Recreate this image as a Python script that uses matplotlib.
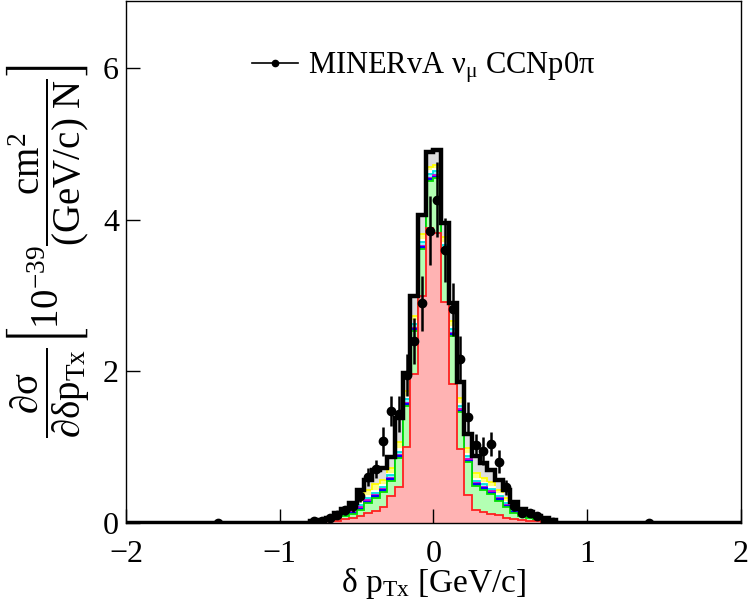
import numpy as np
import matplotlib
matplotlib.use('Agg')
import matplotlib.pyplot as plt
from matplotlib.lines import Line2D

plt.rcParams['font.family'] = ['Liberation Serif', 'DejaVu Serif']
plt.rcParams['mathtext.fontset'] = 'custom'
plt.rcParams['mathtext.rm'] = 'Liberation Serif'
plt.rcParams['mathtext.it'] = 'Liberation Serif:italic'
plt.rcParams['mathtext.bf'] = 'Liberation Serif:bold'
plt.rcParams['mathtext.fallback'] = 'stix'

# bin edges: one wide bin each side, 0.05 wide bins in the middle
edges = [-2.0, -0.8, -0.75, -0.7, -0.65, -0.6, -0.55, -0.5, -0.45, -0.4, -0.35, -0.3,
         -0.25, -0.2, -0.15, -0.1, -0.05, 0.0, 0.05, 0.1, 0.15, 0.2, 0.25, 0.3,
         0.35, 0.4, 0.45, 0.5, 0.55, 0.6, 0.65, 0.7, 0.75, 0.8, 2.0]

# total MC (black outline)
mc_total = [0.0,
            0.02, 0.04, 0.06, 0.13, 0.19, 0.27, 0.44, 0.57, 0.70, 0.72, 0.87, 1.38, 1.98, 2.99, 4.07, 4.90,
            4.92, 3.96, 2.90, 1.86, 1.18, 0.89, 0.79, 0.70, 0.57, 0.43, 0.28, 0.19, 0.14, 0.09, 0.06, 0.04,
            0.0]
# red (bottom) layer
mc_red = [0.0,
          0.003, 0.01, 0.02, 0.03, 0.05, 0.07, 0.09, 0.13, 0.16, 0.21, 0.35, 0.48, 1.00, 1.97, 3.00, 3.90,
          3.83, 2.92, 1.84, 0.98, 0.37, 0.17, 0.15, 0.12, 0.10, 0.07, 0.05, 0.04, 0.03, 0.02, 0.01, 0.005,
          0.0]
# top of green layer
mc_green_top = [0.0,
                0.01, 0.02, 0.04, 0.07, 0.09, 0.12, 0.17, 0.26, 0.33, 0.41, 0.56, 0.86, 1.55, 2.54, 3.62, 4.52,
                4.55, 3.58, 2.47, 1.46, 0.80, 0.49, 0.44, 0.38, 0.29, 0.21, 0.13, 0.09, 0.06, 0.04, 0.02, 0.01,
                0.0]
mc_blue = [0.0,
           0.0, 0.0, 0.0, 0.01, 0.01, 0.01, 0.02, 0.02, 0.02, 0.02, 0.02, 0.02, 0.02, 0.02, 0.02, 0.02,
           0.02, 0.02, 0.02, 0.02, 0.02, 0.02, 0.02, 0.02, 0.02, 0.02, 0.01, 0.01, 0.01, 0.0, 0.0, 0.0,
           0.0]
mc_magenta = [0.0,
              0.0, 0.0, 0.0, 0.0, 0.01, 0.01, 0.02, 0.02, 0.02, 0.02, 0.02, 0.02, 0.02, 0.02, 0.02, 0.02,
              0.02, 0.02, 0.02, 0.02, 0.02, 0.02, 0.02, 0.02, 0.02, 0.01, 0.01, 0.01, 0.0, 0.0, 0.0, 0.0,
              0.0]
mc_cyan = [0.0,
           0.0, 0.0, 0.0, 0.01, 0.02, 0.02, 0.03, 0.03, 0.03, 0.03, 0.03, 0.04, 0.04, 0.05, 0.05, 0.05,
           0.05, 0.05, 0.05, 0.04, 0.04, 0.03, 0.03, 0.03, 0.03, 0.02, 0.02, 0.01, 0.01, 0.01, 0.0, 0.0,
           0.0]
mc_white = [0.0,
            0.0, 0.0, 0.0, 0.01, 0.01, 0.02, 0.02, 0.02, 0.02, 0.02, 0.02, 0.03, 0.03, 0.03, 0.03, 0.03,
            0.03, 0.03, 0.03, 0.03, 0.03, 0.02, 0.02, 0.02, 0.02, 0.02, 0.01, 0.01, 0.01, 0.0, 0.0, 0.0,
            0.0]
mc_yellow = [0.0,
             0.0, 0.01, 0.01, 0.02, 0.03, 0.05, 0.08, 0.08, 0.09, 0.07, 0.07, 0.10, 0.08, 0.07, 0.07, 0.06,
             0.06, 0.07, 0.08, 0.08, 0.08, 0.08, 0.07, 0.07, 0.06, 0.05, 0.04, 0.03, 0.02, 0.01, 0.01, 0.01,
             0.0]

# MINERvA data points
data_x = [-1.4,
          -0.775, -0.725, -0.675, -0.625, -0.575, -0.525, -0.475, -0.425, -0.375, -0.325, -0.275, -0.225,
          -0.175, -0.125, -0.075, -0.025, 0.025, 0.075, 0.125, 0.175, 0.225, 0.275, 0.325, 0.375,
          0.425, 0.475, 0.525, 0.575, 0.625, 0.675, 0.725, 0.775,
          1.4]
data_y = [0.0,
          0.02, 0.03, 0.06, 0.10, 0.17, 0.22, 0.36, 0.61, 0.71, 1.08, 1.48, 1.44, 1.95, 2.40, 2.90, 3.86,
          4.27, 3.60, 2.82, 2.17, 1.40, 1.03, 0.95, 1.04, 0.81, 0.47, 0.23, 0.13, 0.13, 0.09, 0.03, 0.01,
          0.0]
data_err = [0.0,
            0.02, 0.03, 0.04, 0.05, 0.06, 0.07, 0.08, 0.12, 0.12, 0.19, 0.20, 0.24, 0.28, 0.30, 0.36, 0.46,
            0.50, 0.42, 0.35, 0.30, 0.20, 0.15, 0.18, 0.16, 0.15, 0.10, 0.07, 0.05, 0.05, 0.04, 0.03, 0.02,
            0.0]

edges = np.array(edges)
red = np.array(mc_red)
green = np.array(mc_green_top)
c_blue = green + np.array(mc_blue)
c_mag = c_blue + np.array(mc_magenta)
c_cyan = c_mag + np.array(mc_cyan)
c_white = c_cyan + np.array(mc_white)
c_yellow = c_white + np.array(mc_yellow)
total = np.maximum(np.array(mc_total), c_yellow)

fig = plt.figure(figsize=(7.48, 6.06), dpi=100)
ax = fig.add_axes([0.1684, 0.137, 0.8222, 0.8613])

# stack layers, drawn from top down so lower ones sit in front
layers = [
    (total, '#dedede', '#cccccc'),
    (c_yellow, '#ffff80', '#ffff00'),
    (c_white, '#ffffff', '#ffffff'),
    (c_cyan, '#80ffff', '#00e0e0'),
    (c_mag, '#ff00ff', '#cc00cc'),
    (c_blue, '#3030ff', '#0000ff'),
    (green, '#b3ffb3', '#00e000'),
    (red, '#ffb3b3', '#ff2020'),
]
for vals, fc, ec in layers:
    ax.stairs(vals, edges, baseline=0, fill=True, facecolor=fc, lw=0)
    ax.stairs(vals, edges, baseline=0, color=ec, lw=1.3)

ax.stairs(total, edges, baseline=0, color='black', lw=3.2)

ax.errorbar(data_x, data_y, yerr=data_err, fmt='o', color='black', ms=6,
            elinewidth=1.8, capsize=0, zorder=5)

ax.set_xlim(-2, 2)
ax.set_ylim(0, 6.89)
ax.set_xticks([-2, -1, 0, 1, 2])
ax.set_yticks([0, 2, 4, 6])
ax.tick_params(direction='in', length=10, width=1, labelsize=23)
ax.tick_params(axis='x', pad=12)
ax.tick_params(axis='y', pad=5)
for s in ax.spines.values():
    s.set_linewidth(1.0)

ax.set_xlabel(r'δ p$_{\mathrm{Tx}}$ [GeV/c]', fontsize=24)
ax.xaxis.set_label_coords(0.5, -0.082)
ax.set_ylabel(r'$\dfrac{\mathrm{∂σ}}{\mathrm{∂δp_{Tx}}}'
              r'\left[\mathrm{10^{-39}}\dfrac{\mathrm{cm^{2}}}{\mathrm{(GeV/c)\ N}}\right]$', fontsize=28)
ax.yaxis.label.set_va('center')
ax.yaxis.set_label_coords(-0.128, 0.52)

handle = Line2D([], [], color='black', lw=1.2, marker='o', ms=4.5)
ax.legend([handle], [r'MINERvA ν$_{\mathrm{μ}}$ CCNp0π'], loc='center left',
          bbox_to_anchor=(0.205, 0.872), frameon=False, fontsize=22,
          borderpad=0, borderaxespad=0, handlelength=1.5, handletextpad=0.33)

fig.savefig('out.png', dpi=100)
